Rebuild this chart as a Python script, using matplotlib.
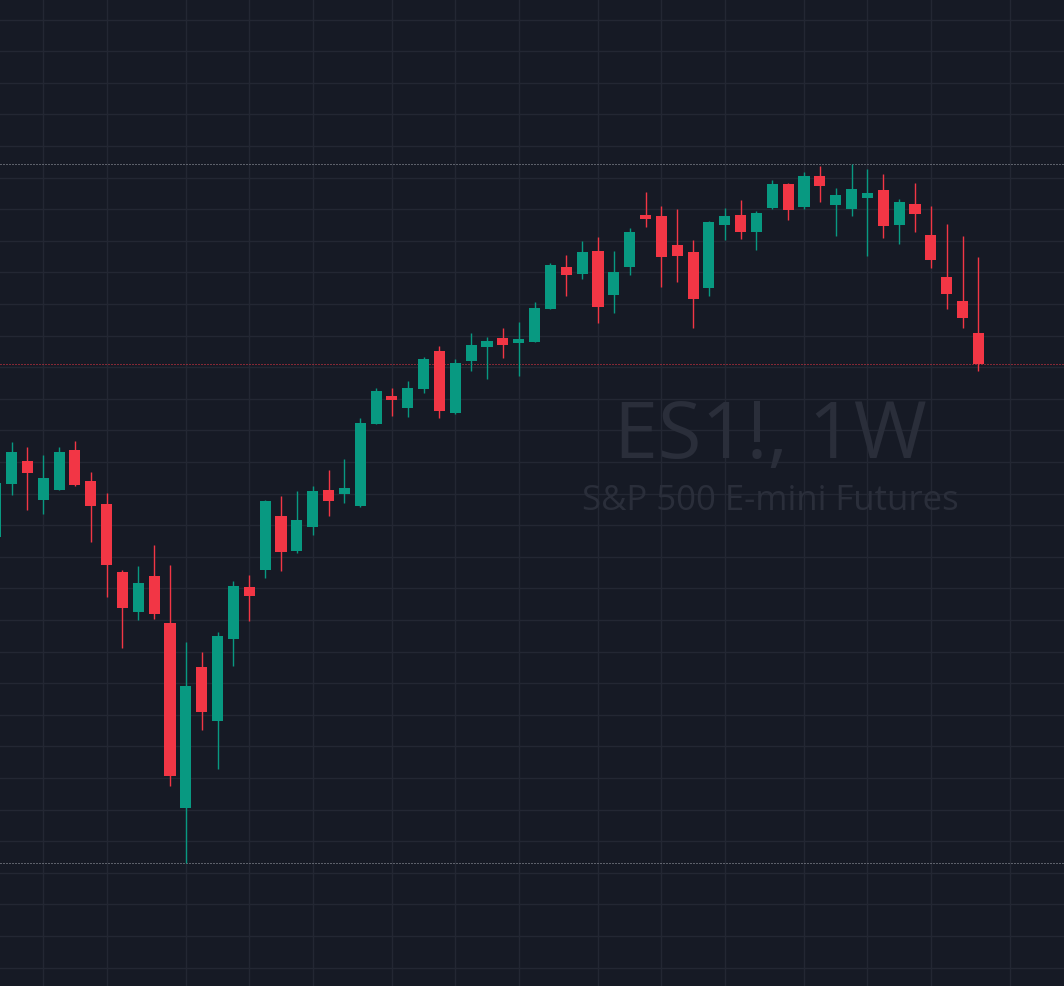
import numpy as np
import matplotlib.pyplot as plt
from matplotlib.ticker import MultipleLocator, FixedLocator

# Weekly OHLC values (ES1!, 1W)
opens = [5863, 6031, 6103, 5981, 6012, 6138, 6040, 5967, 5752, 5626,
         5739, 5590, 5006, 5451, 5281, 5541, 5704, 5759, 5929, 5819,
         5895, 6011, 6000, 5962, 6221, 6309, 6272, 6332, 6451, 6256,
         6420, 6465, 6492, 6477, 6481, 6585, 6717, 6696, 6768, 6629,
         6718, 6882, 6878, 6787, 6764, 6652, 6851, 6882, 6829, 6905,
         6980, 6908, 7005, 6914, 6902, 6936, 6961, 6851, 6916, 6818,
         6685, 6609, 6508]
highs = [6043, 6163, 6147, 6122, 6147, 6166, 6068, 6002, 5758, 5771,
         5837, 5774, 5530, 5499, 5562, 5723, 5742, 5979, 5992, 6008,
         6024, 6075, 6109, 6239, 6334, 6334, 6356, 6432, 6467, 6426,
         6508, 6495, 6524, 6543, 6606, 6730, 6755, 6799, 6812, 6768,
         6840, 6954, 6910, 6901, 6802, 6863, 6904, 6929, 6894, 6992,
         6983, 7018, 7037, 6967, 7043, 7027, 7011, 6932, 6983, 6910,
         6853, 6815, 6749]
lows = [5853, 5996, 5949, 5936, 6010, 6025, 5848, 5674, 5511, 5600,
        5604, 5076, 4832, 5253, 5129, 5455, 5598, 5734, 5756, 5813,
        5870, 5930, 5971, 5959, 6220, 6247, 6243, 6319, 6240, 6253,
        6389, 6364, 6430, 6373, 6479, 6583, 6626, 6680, 6541, 6572,
        6693, 6845, 6655, 6671, 6525, 6626, 6803, 6807, 6772, 6902,
        6867, 6902, 6924, 6816, 6879, 6753, 6810, 6791, 6829, 6715,
        6585, 6525, 6389]
closes = [6034, 6132, 6066, 6049, 6132, 6028, 5962, 5775, 5639, 5717,
          5620, 5107, 5391, 5310, 5549, 5707, 5677, 5977, 5816, 5916,
          6008, 5978, 6018, 6223, 6325, 6297, 6334, 6426, 6262, 6413,
          6470, 6483, 6471, 6489, 6587, 6723, 6693, 6764, 6591, 6701,
          6828, 6870, 6750, 6753, 6617, 6860, 6878, 6829, 6888, 6980,
          6898, 7005, 6974, 6945, 6964, 6951, 6848, 6923, 6886, 6740,
          6633, 6557, 6411]

# bar index of the first week of each month (vertical grid lines)
month_starts = [3, 7, 12, 16, 20, 25, 29, 33, 38, 42, 46, 51, 55, 59, 64]

up_color = '#089981'
down_color = '#f23645'
bg_color = '#161a25'

fig = plt.figure(figsize=(10.64, 9.86), dpi=100, facecolor=bg_color)
ax = fig.add_axes([0, 0, 1, 1])
ax.set_facecolor(bg_color)

o = np.array(opens)
h = np.array(highs)
l = np.array(lows)
c = np.array(closes)
x = np.arange(len(o))
colors = np.where(c >= o, up_color, down_color)

# wicks then bodies
ax.vlines(x, l, h, colors=colors, linewidth=1, zorder=3)
body_low = np.minimum(o, c)
body_h = np.maximum(np.abs(c - o), 3)
ax.bar(x, body_h, bottom=body_low, width=0.7, color=colors, linewidth=0, zorder=4)

# high / low / last price lines (1px dots, 3px period)
dots = (0, (1, 2))
ax.axhline(max(highs), color='#a3a6af', linestyle=dots, linewidth=0.72, zorder=2)
ax.axhline(min(lows), color='#a3a6af', linestyle=dots, linewidth=0.72, zorder=2)
ax.axhline(closes[-1], color=down_color, linestyle=dots, linewidth=0.72, zorder=2)

ax.set_xlim(0.274, 67.4)
ax.set_ylim(4442, 7562)

# grid
ax.yaxis.set_major_locator(MultipleLocator(100))
ax.xaxis.set_major_locator(FixedLocator(month_starts))
ax.grid(True, color='#232733', linewidth=1)
ax.set_axisbelow(True)
ax.tick_params(left=False, bottom=False, labelleft=False, labelbottom=False)
for s in ax.spines.values():
    s.set_visible(False)

# watermark
ax.text(0.724, 0.556, 'ES1!, 1W', transform=ax.transAxes, ha='center', va='center',
        fontsize=57, color='#2a2e3a', family='Open Sans', zorder=1)
ax.text(0.724, 0.492, 'S&P 500 E-mini Futures', transform=ax.transAxes, ha='center',
        va='center', fontsize=25, color='#2a2e3a', family='Open Sans', zorder=1)

fig.savefig('out.png', dpi=100, facecolor=bg_color)
